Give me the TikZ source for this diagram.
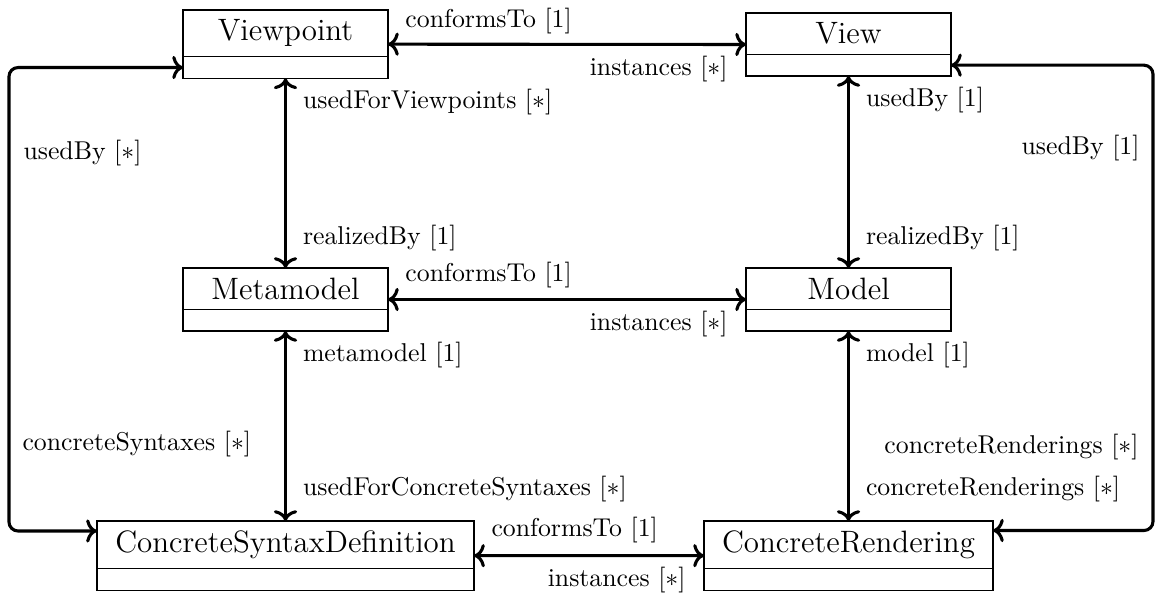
\documentclass[tikz,border=0pt]{standalone}
\usetikzlibrary{calc,fit,arrows.meta}
\begin{document}
\begin{tikzpicture}[x=0.388pt,y=-0.388pt,
  namepart/.style={draw, line width=0.5pt, font=\large, inner xsep=4pt, inner ysep=3.8pt,
    outer sep=0pt, minimum width=#1, anchor=north},
  namepart/.default=79.5pt,
  attrpart/.style={draw, line width=0.5pt, inner sep=0pt, outer sep=0pt, minimum height=8.4pt,
    minimum width=#1, anchor=north},
  attrpart/.default=79.5pt,
  classbox/.style={fit=#1, inner sep=0pt, outer sep=0pt},
  cmtip/.tip={Computer Modern Rightarrow[length=4.2pt,width=9pt]},
  assoc/.style={cmtip-cmtip, line width=1.2pt, rounded corners=3.5pt},
  lbl/.style={font=\normalsize, inner sep=0pt}]
\useasboundingbox (0,0) rectangle (1157,593);

% classes: name compartment above an empty attribute compartment
\node[namepart] (vpn) at (285.5,10) {Viewpoint};
\node[attrpart] (vpa) at (vpn.south) {};
\node[classbox={(vpn)(vpa)}] (vp) {};

\node[namepart] (viewn) at (848.5,13) {View};
\node[attrpart] (viewa) at (viewn.south) {};
\node[classbox={(viewn)(viewa)}] (view) {};

\node[namepart] (mmn) at (285.5,268) {Metamodel};
\node[attrpart] (mma) at (mmn.south) {};
\node[classbox={(mmn)(mma)}] (mm) {};

\node[namepart] (modeln) at (848.5,268) {Model};
\node[attrpart] (modela) at (modeln.south) {};
\node[classbox={(modeln)(modela)}] (model) {};

\node[namepart=146.3pt] (csdn) at (285.5,521) {ConcreteSyntaxDefinition};
\node[attrpart=146.3pt] (csda) at (csdn.south) {};
\node[classbox={(csdn)(csda)}] (csd) {};

\node[namepart=112.1pt] (crn) at (848.5,521) {ConcreteRendering};
\node[attrpart=112.1pt] (cra) at (crn.south) {};
\node[classbox={(crn)(cra)}] (cr) {};

% horizontal associations
\draw[assoc] (vp.east) -- (view.west);
\draw[assoc] (mm.east) -- (model.west);
\draw[assoc] (csd.east) -- (cr.west);
\node[lbl, anchor=base west] (l1) at ($(vp.east)+(17,-17)$) {conformsTo [1]};
\node[lbl, anchor=base east] (l2) at ($(view.west)+(-18,31)$) {instances [$*$]};
\node[lbl, anchor=base west] (l3) at ($(mm.east)+(17,-18)$) {conformsTo [1]};
\node[lbl, anchor=base east] (l4) at ($(model.west)+(-18,31)$) {instances [$*$]};
\node[lbl, anchor=base west] (l5) at ($(csd.east)+(17,-19)$) {conformsTo [1]};
\node[lbl, anchor=base east] (l6) at ($(cr.west)+(-18,31)$) {instances [$*$]};

% vertical associations
\draw[assoc] (vp.south) -- (mm.north);
\draw[assoc] (mm.south) -- (csd.north);
\draw[assoc] (view.south) -- (model.north);
\draw[assoc] (model.south) -- (cr.north);
\node[lbl, anchor=base west] (l7)  at ($(vp.south)+(17,30)$) {usedForViewpoints [$*$]};
\node[lbl, anchor=base west] (l8)  at ($(mm.north)+(17,-23)$) {realizedBy [1]};
\node[lbl, anchor=base west] (l9)  at ($(mm.south)+(17,30)$) {metamodel [1]};
\node[lbl, anchor=base west] (l10) at ($(csd.north)+(17,-25)$) {usedForConcreteSyntaxes [$*$]};
\node[lbl, anchor=base west] (l11) at ($(view.south)+(17,31)$) {usedBy [1]};
\node[lbl, anchor=base west] (l12) at ($(model.north)+(17,-23)$) {realizedBy [1]};
\node[lbl, anchor=base west] (l13) at ($(model.south)+(17,30)$) {model [1]};
\node[lbl, anchor=base west] (l14) at ($(cr.north)+(17,-25)$) {concreteRenderings [$*$]};

% outer loops
\coordinate (leftrail)  at (9,0);
\coordinate (rightrail) at (1153,0);
\coordinate (csdin) at ($(csd.north west)+(0,10)$);
\coordinate (crin)  at ($(cr.north east)+(0,9.5)$);
\draw[assoc] (vpa.west) -- (vpa.west -| leftrail) -- (csdin -| leftrail) -- (csdin);
\draw[assoc] (viewa.east) -- (viewa.east -| rightrail) -- (crin -| rightrail) -- (crin);
\node[lbl, anchor=base west] (l15) at (23,160) {usedBy [$*$]};
\node[lbl, anchor=base west] (l16) at (22,451) {concreteSyntaxes [$*$]};
\node[lbl, anchor=base east] (l17) at (1140,155) {usedBy [1]};
\node[lbl, anchor=base east] (l18) at (1139,454) {concreteRenderings [$*$]};
\end{tikzpicture}
\end{document}
